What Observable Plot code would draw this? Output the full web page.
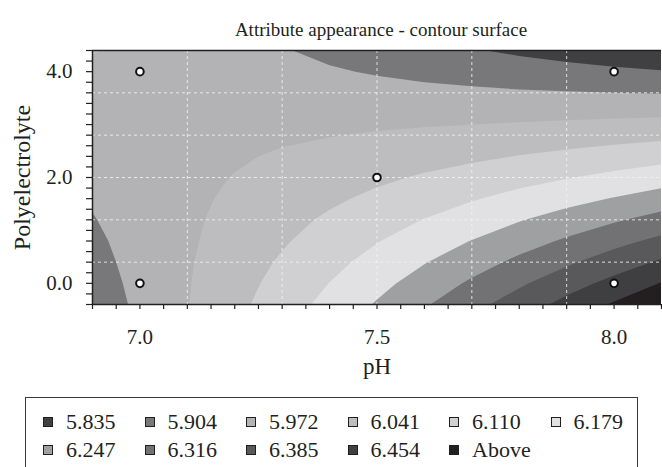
<!DOCTYPE html>
<html>
<head>
<meta charset="utf-8">
<script src="https://cdn.jsdelivr.net/npm/d3@7"></script>
<script src="https://cdn.jsdelivr.net/npm/@observablehq/plot@0.6"></script>
<style>
  html, body { margin: 0; padding: 0; background: #fff; }
  #wrap { position: relative; width: 662px; height: 467px; overflow: hidden; font-family: "Liberation Serif", "DejaVu Serif", serif; }
  #plot { position: absolute; left: 0; top: 0; }
  #legend { position: absolute; left: 25px; top: 397px; width: 613px; height: 110px; border: 1.5px solid #3a3a3a; box-sizing: border-box; }
  .item { position: absolute; display: flex; align-items: center; font-size: 22px; line-height: 1; color: #231f20; white-space: nowrap; }
  .sw { width: 10px; height: 10px; border: 1px solid #231f20; box-sizing: border-box; margin-right: 13px; }
</style>
</head>
<body>
<div id="wrap">
  <div id="plot"></div>
  <div id="legend"></div>
</div>
<script>
// ---------- data ----------
const title = "Attribute appearance - contour surface";
const xLabel = "pH";
const yLabel = "Polyelectrolyte";

// grid nodes of the estimated surface
const phGrid = [6.9, 7.0, 7.1, 7.2, 7.3, 7.4, 7.5, 7.6, 7.7, 7.8, 7.9, 8.0, 8.1];
const polyGrid = [-0.4, 0.0, 0.4, 0.8, 1.2, 1.6, 2.0, 2.4, 2.8, 3.2, 3.6, 4.0, 4.4];

// estimated attribute-appearance values; one row per polyelectrolyte level (bottom to top),
// one column per pH level (left to right)
const appearance = [
  [5.865, 5.917, 5.970, 6.023, 6.077, 6.131, 6.185, 6.240, 6.295, 6.350, 6.406, 6.462, 6.519],
  [5.874, 5.921, 5.968, 6.015, 6.063, 6.111, 6.159, 6.208, 6.257, 6.306, 6.356, 6.406, 6.457],
  [5.883, 5.925, 5.966, 6.007, 6.049, 6.091, 6.133, 6.176, 6.219, 6.262, 6.306, 6.350, 6.395],
  [5.892, 5.928, 5.963, 5.999, 6.034, 6.071, 6.107, 6.144, 6.181, 6.219, 6.256, 6.295, 6.333],
  [5.901, 5.932, 5.961, 5.991, 6.020, 6.051, 6.081, 6.112, 6.143, 6.175, 6.207, 6.239, 6.272],
  [5.910, 5.936, 5.959, 5.982, 6.006, 6.030, 6.055, 6.080, 6.105, 6.131, 6.157, 6.183, 6.210],
  [5.919, 5.940, 5.957, 5.974, 5.992, 6.010, 6.029, 6.048, 6.067, 6.087, 6.107, 6.127, 6.148],
  [5.928, 5.944, 5.955, 5.966, 5.978, 5.990, 6.003, 6.016, 6.029, 6.043, 6.057, 6.071, 6.086],
  [5.938, 5.947, 5.953, 5.958, 5.964, 5.970, 5.977, 5.984, 5.991, 5.999, 6.007, 6.016, 6.024],
  [5.947, 5.951, 5.950, 5.950, 5.950, 5.950, 5.951, 5.952, 5.953, 5.955, 5.957, 5.960, 5.963],
  [5.956, 5.955, 5.948, 5.942, 5.936, 5.930, 5.925, 5.920, 5.916, 5.911, 5.908, 5.904, 5.901],
  [5.965, 5.959, 5.946, 5.934, 5.922, 5.910, 5.899, 5.888, 5.878, 5.867, 5.858, 5.848, 5.839],
  [5.974, 5.963, 5.944, 5.926, 5.908, 5.890, 5.873, 5.856, 5.840, 5.824, 5.808, 5.792, 5.777]
];

// contour levels (legend) and their fills
const levels = [5.835, 5.904, 5.972, 6.041, 6.110, 6.179, 6.247, 6.316, 6.385, 6.454];
const legendLabels = ["5.835", "5.904", "5.972", "6.041", "6.110", "6.179",
                      "6.247", "6.316", "6.385", "6.454", "Above"];
const bandColors = ["#404042", "#78787b", "#b3b3b5", "#bdbdbf", "#d0d0d2", "#e1e1e3",
                    "#9fa0a2", "#727274", "#59595b", "#3f3f41", "#231f20"];

// design points
const designPH = [7.0, 8.0, 7.5, 7.0, 8.0];
const designPoly = [4.0, 4.0, 2.0, 0.0, 0.0];

// axes
const xDomain = [6.9, 8.1];
const yDomain = [-0.4, 4.4];
const xTickLabels = [7.0, 7.5, 8.0];
const yTickLabels = [0.0, 2.0, 4.0];
const xGridLines = [7.1, 7.3, 7.5, 7.7, 7.9];
const yGridLines = [0.4, 1.2, 2.0, 2.8, 3.6];
const xMinorStep = 0.05;
const yMinorStep = 0.2;

// ---------- drawing ----------
const ink = "#231f20";
const values = appearance.flat();
const dx = phGrid[1] - phGrid[0];
const dy = polyGrid[1] - polyGrid[0];
const thresholds = [d3.min(values) - 0.01, ...levels];
const xMinor = d3.range(Math.round((xDomain[1] - xDomain[0]) / xMinorStep) + 1).map(i => +(xDomain[0] + i * xMinorStep).toFixed(2));
const yMinor = d3.range(Math.round((yDomain[1] - yDomain[0]) / yMinorStep) + 1).map(i => +(yDomain[0] + i * yMinorStep).toFixed(2));
const points = designPH.map((ph, i) => ({ph, poly: designPoly[i]}));
const fmt = d3.format(".1f");

const chart = Plot.plot({
  width: 662,
  height: 395,
  marginTop: 50,
  marginBottom: 91,
  marginLeft: 92,
  marginRight: 1,
  x: {domain: xDomain, label: null},
  y: {domain: yDomain, label: null},
  color: {type: "threshold", domain: levels, range: bandColors},
  style: {fontFamily: "Liberation Serif, DejaVu Serif, serif", background: "transparent", color: ink},
  marks: [
    Plot.contour(values, {
      width: phGrid.length,
      height: polyGrid.length,
      x1: phGrid[0] - dx / 2,
      x2: phGrid[phGrid.length - 1] + dx / 2,
      y1: polyGrid[0] - dy / 2,
      y2: polyGrid[polyGrid.length - 1] + dy / 2,
      thresholds,
      fill: Plot.identity,
      stroke: null,
      clip: true
    }),
    Plot.gridX(xGridLines, {stroke: "#f2f2f2", strokeOpacity: 0.85, strokeDasharray: "3 3", strokeWidth: 1}),
    Plot.gridY(yGridLines, {stroke: "#f2f2f2", strokeOpacity: 0.85, strokeDasharray: "3 3", strokeWidth: 1}),
    Plot.ruleY([yDomain[1]], {stroke: ink, strokeWidth: 1.5}),
    Plot.ruleY([yDomain[0]], {stroke: ink, strokeWidth: 1.5}),
    Plot.ruleX([xDomain[0]], {stroke: ink, strokeWidth: 1.5}),
    Plot.axisX(xMinor, {anchor: "bottom", tickSize: 5, tickFormat: () => "", stroke: ink, strokeWidth: 1.2, label: null}),
    Plot.axisX(xTickLabels, {anchor: "bottom", tickSize: 0, tickPadding: 25, tickFormat: fmt, fontSize: 21, fill: ink, label: null}),
    Plot.axisY(yMinor, {anchor: "left", tickSize: 6, tickFormat: () => "", stroke: ink, strokeWidth: 1.2, label: null}),
    Plot.axisY(yTickLabels, {anchor: "left", tickSize: 0, tickPadding: 20, tickFormat: fmt, fontSize: 21, fill: ink, label: null}),
    Plot.dot(points, {x: "ph", y: "poly", r: 3.8, fill: "white", stroke: "#111", strokeWidth: 2}),
    Plot.text([title], {frameAnchor: "top", textAnchor: "middle", dy: -28, dx: 4, fontSize: 19, fill: ink}),
    Plot.text([xLabel], {frameAnchor: "bottom", textAnchor: "middle", dy: 69, fontSize: 23, fill: ink}),
    Plot.text([yLabel], {frameAnchor: "left", textAnchor: "middle", dx: -70, rotate: -90, fontSize: 24, fill: ink})
  ]
});
document.getElementById("plot").append(chart);

// legend
const legend = document.getElementById("legend");
legendLabels.forEach((lab, i) => {
  const col = i % 6, row = Math.floor(i / 6);
  const el = document.createElement("div");
  el.className = "item";
  el.style.left = (17 + col * 101.5) + "px";
  el.style.top = (13 + row * 28) + "px";
  const sw = document.createElement("span");
  sw.className = "sw";
  sw.style.background = bandColors[i];
  const tx = document.createElement("span");
  tx.textContent = lab;
  el.append(sw, tx);
  legend.append(el);
});
</script>
</body>
</html>
